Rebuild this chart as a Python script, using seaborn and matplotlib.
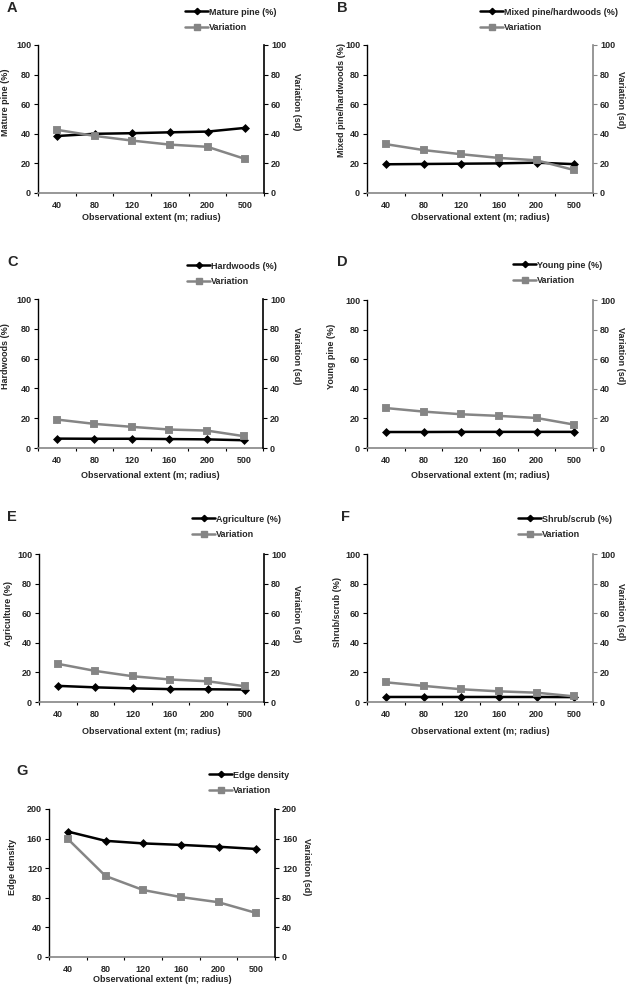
import matplotlib
matplotlib.use("Agg")

import matplotlib.pyplot as plt
import seaborn as sns
from matplotlib.lines import Line2D
from matplotlib.ticker import FixedLocator

# ─────────────────────── data ───────────────────────────────────────────
extent = ["40", "80", "120", "160", "200", "500"]

mature_pine = [38.5, 40.0, 40.4, 41.0, 41.5, 44.0]
mature_pine_sd = [42.7, 38.6, 35.4, 32.7, 31.2, 23.0]

mixed = [19.4, 19.6, 19.8, 20.0, 20.5, 19.5]
mixed_sd = [33.0, 29.0, 26.2, 23.7, 22.1, 15.5]

hardwoods = [6.3, 6.2, 6.2, 6.0, 5.8, 5.2]
hardwoods_sd = [19.1, 16.2, 14.2, 12.4, 11.7, 7.9]

young_pine = [10.8, 10.8, 10.9, 10.9, 10.9, 10.9]
young_pine_sd = [27.0, 24.6, 22.8, 21.7, 20.3, 15.8]

agriculture = [10.9, 9.9, 9.2, 8.7, 8.6, 8.4]
agriculture_sd = [25.8, 21.0, 17.4, 15.2, 14.0, 10.6]

shrub = [3.4, 3.4, 3.4, 3.4, 3.4, 3.3]
shrub_sd = [13.3, 10.9, 8.6, 7.2, 6.3, 3.8]

edge = [169.5, 157.0, 153.5, 151.5, 149.0, 146.0]
edge_sd = [159.5, 109.5, 90.5, 81.0, 74.0, 59.5]

# ─────────────────────── layout (pixels) ────────────────────────────────
W, H = 629, 992
GRAY = "#858585"

panels = [
    # letter, ylabel, legend label, values, sd, ymax, step,
    # axes box (l, r, top, bottom), letter pos, ylabel x, yr label x, label y, xlabel y, legend (x, y), right spine colour
    ("A", "Mature pine (%)", "Mature pine (%)", mature_pine, mature_pine_sd, 100, 20,
     (38, 264, 45, 193), (7, 12), 6, 296, 102, 218, (185, 20), "black"),
    ("B", "Mixed pine/hardwoods (%)", "Mixed pine/hardwoods (%)", mixed, mixed_sd, 100, 20,
     (367, 593, 45, 193), (337, 12), 342, 621, 100, 218, (480, 20), GRAY),
    ("C", "Hardwoods (%)", "Hardwoods (%)", hardwoods, hardwoods_sd, 100, 20,
     (38, 263, 299, 448), (7, 266), 6, 296, 356, 476, (187, 274), "black"),
    ("D", "Young pine (%)", "Young pine (%)", young_pine, young_pine_sd, 100, 20,
     (367, 593, 300, 448), (337, 266), 331, 621, 356, 476, (513, 273), GRAY),
    ("E", "Agriculture (%)", "Agriculture (%)", agriculture, agriculture_sd, 100, 20,
     (39, 264, 554, 702), (7, 521), 9, 296, 614, 731, (192, 527), "black"),
    ("F", "Shrub/scrub (%)", "Shrub/scrub (%)", shrub, shrub_sd, 100, 20,
     (367, 593, 554, 702), (341, 521), 338, 621, 612, 731, (518, 527), GRAY),
    ("G", "Edge density", "Edge density", edge, edge_sd, 200, 40,
     (49, 275, 809, 957), (16, 775), 13, 307, 867, 979, (209, 783), "black"),
]

sns.set_theme(style="white")
plt.rcParams["font.family"] = ["Liberation Sans", "DejaVu Sans"]
plt.rcParams["font.weight"] = "bold"

FS = 6.5
fig = plt.figure(figsize=(W / 100, H / 100), dpi=100)
fig.patch.set_facecolor("white")


def fx(px):
    return px / W


def fy(py):
    return 1 - py / H


for (letter, ylab, leglab, vals, sd, ymax, step, box, lpos, ylx, yrx, laby,
     xly, legpos, rcol) in panels:
    l, r, t, b = box
    ax = fig.add_axes([fx(l), fy(b), (r - l) / W, (b - t) / H])
    ax2 = ax.twinx()

    sns.pointplot(x=extent, y=vals, ax=ax, color="black", marker="D",
                  markersize=3.2, linewidth=1.8, errorbar=None)
    sns.pointplot(x=extent, y=sd, ax=ax2, color=GRAY, marker="s",
                  markersize=5.0, linewidth=1.8, errorbar=None)

    for a in (ax, ax2):
        a.set_ylim(0, ymax)
        a.set_yticks(range(0, ymax + 1, step))
        a.set_xlim(-0.5, len(extent) - 0.5)
        a.set_xlabel("")
        a.set_ylabel("")
        a.grid(False)
        a.set_facecolor("none")
        for s in a.spines.values():
            s.set_visible(False)

    ax.spines["left"].set_visible(True)
    ax.spines["left"].set_color("black")
    ax.spines["left"].set_linewidth(1.0)
    ax.spines["bottom"].set_visible(True)
    ax.spines["bottom"].set_color(GRAY)
    ax.spines["bottom"].set_linewidth(1.2)
    ax2.spines["right"].set_visible(True)
    ax2.spines["right"].set_color(rcol)
    ax2.spines["right"].set_linewidth(1.2)

    ax.tick_params(axis="y", direction="out", length=3, width=0.8, pad=2,
                   labelsize=FS, color="black", left=True)
    ax2.tick_params(axis="y", direction="out", length=3, width=0.8, pad=2,
                    labelsize=FS, color=rcol, right=True)
    ax.xaxis.set_minor_locator(FixedLocator([i - 0.5 for i in range(len(extent) + 1)]))
    ax.tick_params(axis="x", which="major", length=0, pad=6, labelsize=FS)
    ax.tick_params(axis="x", which="minor", direction="out", length=2.5,
                   width=0.8, color="black", bottom=True)
    for lab in ax.get_yticklabels() + ax2.get_yticklabels() + ax.get_xticklabels():
        lab.set_fontweight("bold")

    fig.text(fx(lpos[0]), fy(lpos[1]), letter, fontsize=10.5, fontweight="bold",
             ha="left", va="baseline")
    fig.text(fx(ylx), fy(laby), ylab, fontsize=FS, fontweight="bold",
             rotation=90, ha="center", va="center")
    fig.text(fx(yrx), fy(laby), "Variation (sd)", fontsize=FS, fontweight="bold",
             rotation=-90, ha="center", va="center")
    fig.text(fx((l + r) / 2), fy(xly), "Observational extent (m; radius)",
             fontsize=FS, fontweight="bold", ha="center", va="center")

    handles = [
        Line2D([], [], color="black", marker="D", markersize=3.2, linewidth=1.8),
        Line2D([], [], color=GRAY, marker="s", markersize=5.0, linewidth=1.8),
    ]
    leg = fig.legend(handles, [leglab, "Variation"], loc="center left",
                     bbox_to_anchor=(fx(legpos[0]), fy(legpos[1])),
                     frameon=False, fontsize=FS, handlelength=2.6,
                     handletextpad=0.1, labelspacing=0.75,
                     borderpad=0, borderaxespad=0)
    for txt in leg.get_texts():
        txt.set_fontweight("bold")

fig.savefig("out.png", dpi=100, facecolor="white")
